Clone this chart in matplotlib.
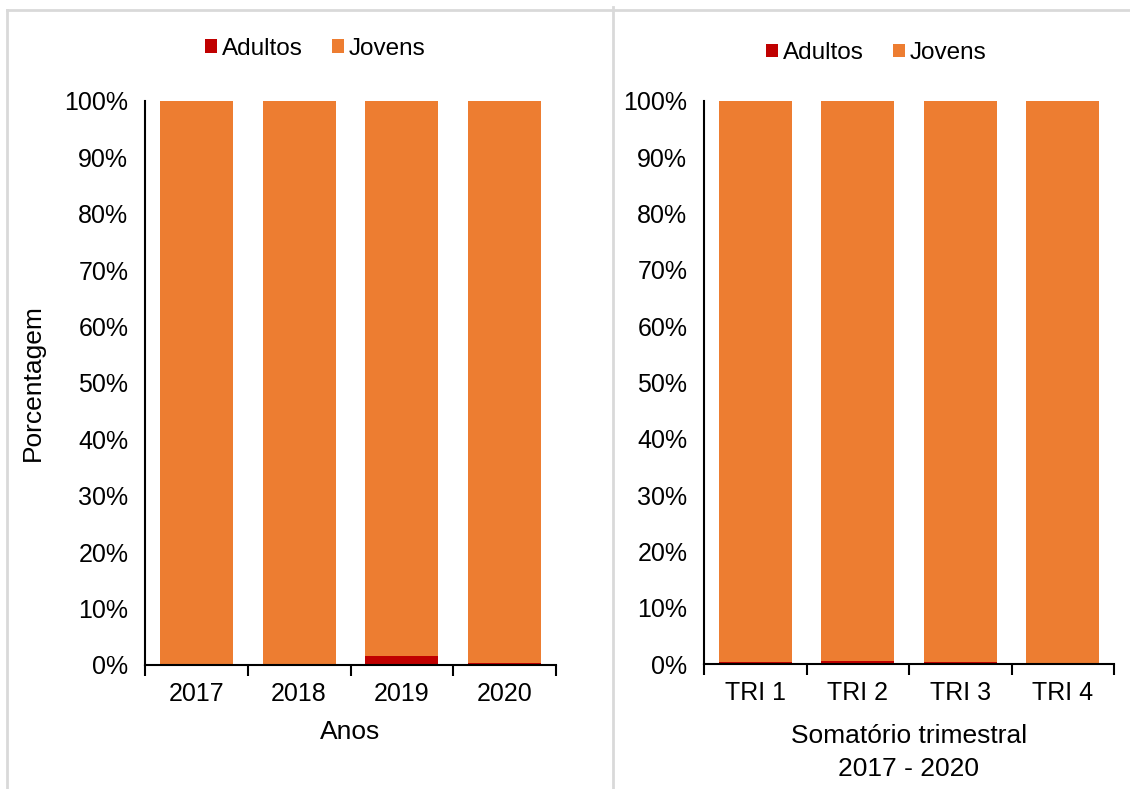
import matplotlib.pyplot as plt
import numpy as np
from matplotlib.lines import Line2D

plt.rcParams['font.family'] = ['Liberation Sans', 'DejaVu Sans']

anos = ['2017', '2018', '2019', '2020']
adultos_ano = [0.05, 0.2, 1.6, 0.3]
jovens_ano = [100 - a for a in adultos_ano]

trimestres = ['TRI 1', 'TRI 2', 'TRI 3', 'TRI 4']
adultos_tri = [0.3, 0.5, 0.3, 0.05]
jovens_tri = [100 - a for a in adultos_tri]

red = '#C00000'
orange = '#ED7D31'

fig = plt.figure(figsize=(11.30, 7.89), dpi=100)

# light gray frame lines of the two chart areas
gray = '#D9D9D9'
fig.add_artist(Line2D([7/1130, 1], [1 - 10/789, 1 - 10/789], color=gray, lw=2))
fig.add_artist(Line2D([7/1130, 7/1130], [0, 1 - 10/789], color=gray, lw=2))
fig.add_artist(Line2D([613/1130, 613/1130], [0, 1 - 7/789], color=gray, lw=2))


def stacked(ax, cats, adultos, jovens):
    x = np.arange(len(cats))
    ax.bar(x, adultos, width=0.71, color=red, label='Adultos')
    ax.bar(x, jovens, width=0.71, bottom=adultos, color=orange, label='Jovens')
    ax.set_xlim(-0.5, len(cats) - 0.5)
    ax.set_ylim(0, 100)
    ax.set_yticks(np.arange(0, 101, 10))
    ax.set_yticklabels([f'{v}%' for v in range(0, 101, 10)])
    ax.set_xticks(x)
    ax.set_xticklabels(cats)
    ax.set_xticks(np.arange(-0.5, len(cats)), minor=True)
    ax.tick_params(axis='x', which='major', length=0, pad=12, labelsize=18)
    ax.tick_params(axis='x', which='minor', length=8, width=1.5)
    ax.tick_params(axis='y', length=0, pad=12, labelsize=18)
    for s in ['top', 'right']:
        ax.spines[s].set_visible(False)
    ax.spines['left'].set_linewidth(1.5)
    ax.spines['bottom'].set_linewidth(1.5)


leg_kw = dict(loc='center', ncol=2, frameon=False, fontsize=17.5,
              handlelength=0.5, handleheight=0.5, handletextpad=0.2,
              columnspacing=1.2)

ax1 = fig.add_axes([145/1130, 1 - 665/789, 411/1130, 564/789])
stacked(ax1, anos, adultos_ano, jovens_ano)
ax1.set_xlabel('Anos', fontsize=19, labelpad=10)
ax1.set_ylabel('Porcentagem', fontsize=19, labelpad=14)
ax1.legend(bbox_to_anchor=(0.414, 1.093), **leg_kw)

ax2 = fig.add_axes([704/1130, 1 - 664/789, 410/1130, 563/789])
stacked(ax2, trimestres, adultos_tri, jovens_tri)
ax2.set_xlabel('Somatório trimestral\n2017 - 2020', fontsize=19, labelpad=14,
               linespacing=1.45)
ax2.legend(bbox_to_anchor=(0.42, 1.085), **leg_kw)

fig.savefig('out.png', dpi=100)
